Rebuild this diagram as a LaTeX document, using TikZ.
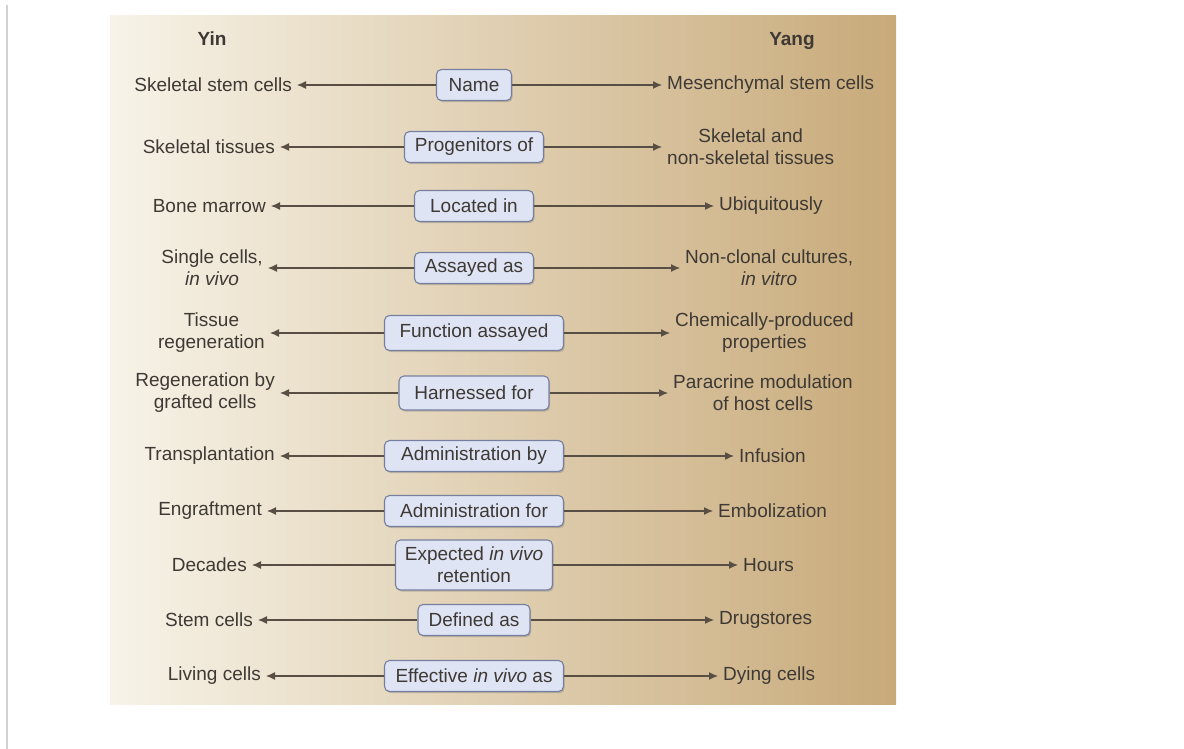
\documentclass[tikz,border=0pt]{standalone}
\usepackage{fontspec}
\setmainfont{Liberation Sans}
\usepackage{tikz}
\usetikzlibrary{arrows.meta,shadows}
\usepackage{xcolor}
\definecolor{panelcream}{RGB}{247,243,232}
\definecolor{panelmid}{RGB}{237,220,190}
\definecolor{paneltan}{RGB}{200,170,122}
\definecolor{boxfill}{RGB}{222,228,244}
\definecolor{boxedge}{RGB}{118,128,158}
\definecolor{inktext}{RGB}{62,57,52}
\definecolor{inkline}{RGB}{88,78,68}

\begin{document}
\begin{tikzpicture}[
    x=1pt,y=-1pt,
    font=\fontsize{19}{22}\selectfont,
    header/.style={anchor=base,font=\fontsize{19}{22}\selectfont\bfseries,text=inktext},
    yinlabel/.style={anchor=east,align=center,text=inktext,inner xsep=5pt,inner ysep=1pt},
    yanglabel/.style={anchor=west,align=center,text=inktext,inner xsep=5pt,inner ysep=1pt},
    aspect/.style={draw=boxedge,fill=boxfill,line width=1.1pt,rounded corners=5pt,
      align=center,text=inktext,inner xsep=6pt,inner ysep=2pt,minimum height=31pt,
      drop shadow={shadow xshift=1.2pt,shadow yshift=-1.6pt,opacity=0.35,fill=black!55}},
    link/.style={-{Latex[length=9pt,width=8pt]},draw=inkline,line width=1.2pt}
  ]
    \useasboundingbox (0,0) rectangle (1184,749);
    \fill[white] (0,0) rectangle (1184,749);
    \draw[black!18,line width=2pt] (7,5) -- (7,749);
    \shade[left color=panelcream,middle color=panelmid,right color=paneltan] (110,16) rectangle (896,704);

    \node[header] (yin) at (212,46) {Yin};
    \node[header] (yang) at (792,46) {Yang};

    \node[aspect,minimum width=75pt] (mid1) at (474,85) {Name};
    \node[aspect,minimum width=139pt] (mid2) at (474,147) {Progenitors of};
    \node[aspect,minimum width=119pt] (mid3) at (474,206) {Located in};
    \node[aspect,minimum width=119pt] (mid4) at (474,268) {Assayed as};
    \node[aspect,minimum width=179pt,minimum height=35pt] (mid5) at (474,333) {Function assayed};
    \node[aspect,minimum width=150pt,minimum height=34pt] (mid6) at (474,393) {Harnessed for};
    \node[aspect,minimum width=179pt] (mid7) at (474,456) {Administration by};
    \node[aspect,minimum width=179pt] (mid8) at (474,511) {Administration for};
    \node[aspect,minimum width=157pt,minimum height=50pt] (mid9) at (474,565) {Expected \textit{in vivo}\\retention};
    \node[aspect,minimum width=112pt] (mid10) at (474,620) {Defined as};
    \node[aspect,minimum width=179pt] (mid11) at (474,676) {Effective \textit{in vivo} as};

    \node[yinlabel] (yin1) at (297,85) {Skeletal stem cells};
    \node[yinlabel] (yin2) at (280,147) {Skeletal tissues};
    \node[yinlabel] (yin3) at (271,206) {Bone marrow};
    \node[yinlabel] (yin4) at (268,268) {Single cells,\\\textit{in vivo}};
    \node[yinlabel] (yin5) at (270,333) {Tissue\\regeneration};
    \node[yinlabel] (yin6) at (280,393) {Regeneration by\\grafted cells};
    \node[yinlabel] (yin7) at (280,456) {Transplantation};
    \node[yinlabel] (yin8) at (267,511) {Engraftment};
    \node[yinlabel] (yin9) at (252,565) {Decades};
    \node[yinlabel] (yin10) at (258,620) {Stem cells};
    \node[yinlabel] (yin11) at (266,676) {Living cells};

    \node[yanglabel] (yang1) at (662,85) {Mesenchymal stem cells};
    \node[yanglabel] (yang2) at (662,147) {Skeletal and\\non-skeletal tissues};
    \node[yanglabel] (yang3) at (714,206) {Ubiquitously};
    \node[yanglabel] (yang4) at (680,268) {Non-clonal cultures,\\\textit{in vitro}};
    \node[yanglabel] (yang5) at (670,333) {Chemically-produced\\properties};
    \node[yanglabel] (yang6) at (668,393) {Paracrine modulation\\of host cells};
    \node[yanglabel] (yang7) at (734,456) {Infusion};
    \node[yanglabel] (yang8) at (713,511) {Embolization};
    \node[yanglabel] (yang9) at (738,565) {Hours};
    \node[yanglabel] (yang10) at (714,620) {Drugstores};
    \node[yanglabel] (yang11) at (718,676) {Dying cells};

    \foreach \i in {1,...,11} {
      \draw[link] (mid\i.west) -- (yin\i.east);
      \draw[link] (mid\i.east) -- (yang\i.west);
    }
  \end{tikzpicture}
\end{document}
